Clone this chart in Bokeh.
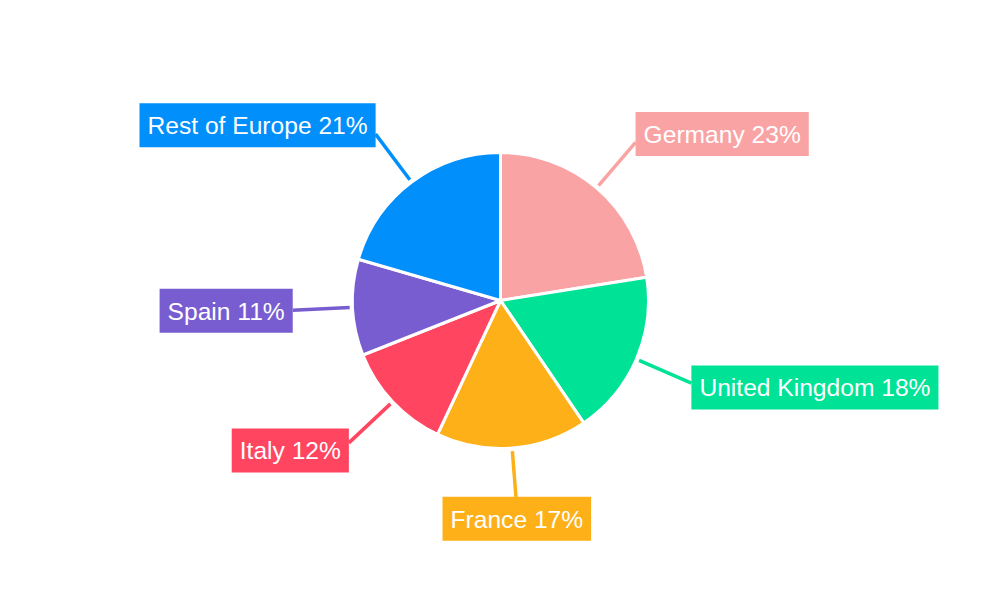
import math
from bokeh.plotting import figure
from bokeh.models import Range1d, Label, ColumnDataSource
from bokeh.embed import file_html
from bokeh.resources import INLINE

# ---- data ----
countries = ["Germany", "United Kingdom", "France", "Italy", "Spain", "Rest of Europe"]
shares = [22.5, 18.0, 16.5, 12.0, 10.5, 20.5]
colors = ["#F9A3A4", "#00E396", "#FEB019", "#FF4560", "#775DD0", "#008FFB"]

# ---- layout constants ----
W, H = 984, 584
CX, CY = 500, 300
R = 148
LINE_R0, LINE_R1 = 151, 208
FONT = "Liberation Sans"

p = figure(width=W, height=H, output_backend="svg", toolbar_location=None,
           x_range=Range1d(-CX, W - CX),
           y_range=Range1d(-(H - CY), CY),
           min_border=0)
p.axis.visible = False
p.grid.visible = False
p.outline_line_color = None

total = sum(shares)
starts, ends, mids = [], [], []
acc = 0.0
for s in shares:
    a0 = acc / total * 2 * math.pi
    acc += s
    a1 = acc / total * 2 * math.pi
    starts.append(math.pi / 2 - a0)
    ends.append(math.pi / 2 - a1)
    mids.append((a0 + a1) / 2)

src = ColumnDataSource(dict(start=starts, end=ends, color=colors))
p.wedge(x=0, y=0, radius=R, start_angle="start", end_angle="end",
        direction="clock", fill_color="color", line_color="white",
        line_width=3, source=src)

x0 = [LINE_R0 * math.sin(m) for m in mids]
y0 = [LINE_R0 * math.cos(m) for m in mids]
x1 = [LINE_R1 * math.sin(m) for m in mids]
y1 = [LINE_R1 * math.cos(m) for m in mids]
p.segment(x0=x0, y0=y0, x1=x1, y1=y1, line_color=colors, line_width=3.5)

for name, s, c, m, ex, ey in zip(countries, shares, colors, mids, x1, y1):
    txt = f"{name} {math.floor(s + 0.5)}%"
    sn = math.sin(m)
    if sn > 0.3:
        align = "left"
    elif sn < -0.3:
        align = "right"
    else:
        align = "center"
    cy = ey + 11 * math.cos(m)
    lab = Label(x=ex, y=cy, text=txt, text_align=align, text_baseline="middle",
                text_color="white", text_font=FONT, text_font_size="24.6px",
                background_fill_color=c, background_fill_alpha=1.0,
                padding=dict(left=8, right=8, top=9, bottom=8))
    p.add_layout(lab)

open("out.html", "w").write(file_html(p, INLINE))
